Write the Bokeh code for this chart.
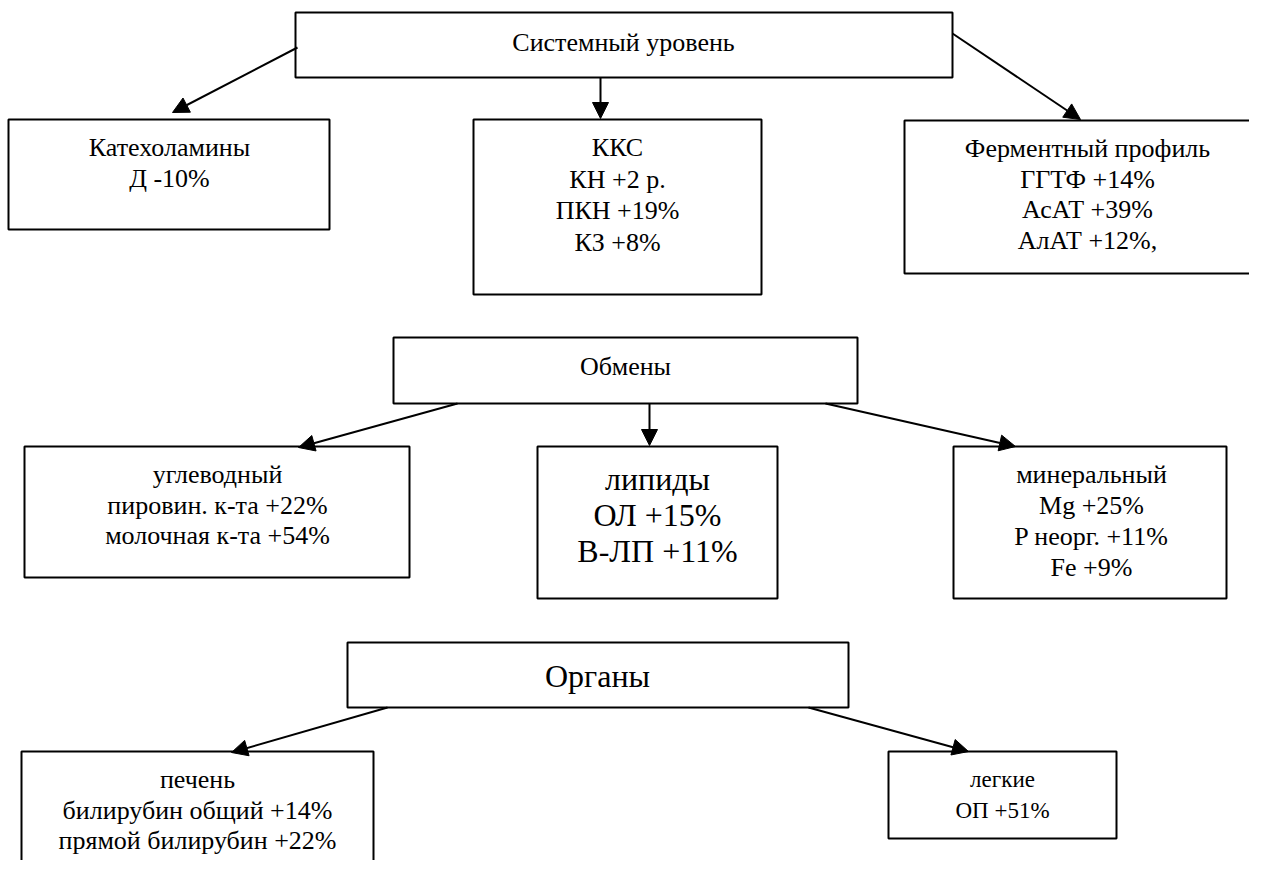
from bokeh.plotting import figure
from bokeh.models import Range1d, ColumnDataSource, Arrow, NormalHead
from bokeh.core.properties import value
from bokeh.embed import file_html
from bokeh.resources import INLINE

# ---- texts of the diagram ----
level_titles = ["Системный уровень", "Обмены", "Органы"]
system_nodes = [
    ["Катехоламины", "Д -10%"],
    ["ККС", "КН +2 р.", "ПКН +19%", "КЗ +8%"],
    ["Ферментный профиль", "ГГТФ +14%", "АсАТ +39%", "АлАТ +12%,"],
]
exchange_nodes = [
    ["углеводный", "пировин. к-та +22%", "молочная к-та +54%"],
    ["липиды", "ОЛ +15%", "В-ЛП +11%"],
    ["минеральный", "Mg +25%", "P неорг. +11%", "Fe +9%"],
]
organ_nodes = [
    ["печень", "билирубин общий +14%", "прямой билирубин +22%"],
    ["легкие", "ОП +51%"],
]

# ---- layout (pixel coordinates of the page) ----
all_texts = [[level_titles[0]]] + system_nodes + [[level_titles[1]]] + exchange_nodes + [[level_titles[2]]] + organ_nodes
rects = [
    (295, 12, 952, 77),
    (8, 119, 329, 229), (473, 119, 761, 294), (904, 120, 1275, 273),
    (393, 337, 857, 403),
    (24, 446, 409, 577), (537, 446, 777, 598), (953, 446, 1226, 598),
    (347, 642, 848, 707),
    (21, 751, 373, 900), (888, 751, 1116, 838),
]
text_cx = [623, 169, 617, 1087, 625, 217, 657, 1091, 597, 197, 1002]
text_y0 = [42, 147, 147, 148, 366, 474, 478, 474, 675, 779, 779]
line_dy = [31, 31, 31.5, 30.5, 31, 30.5, 36, 31, 31, 30.5, 31]
font_px = [26, 26, 26, 26, 26, 26, 32, 26, 32, 26, 23]
arrows = [
    (297, 47, 172, 112), (600, 77, 600, 118), (952, 33, 1080, 119),
    (457, 403, 298, 447), (649, 403, 649, 445), (825, 403, 1015, 446),
    (387, 707, 231, 752), (808, 707, 968, 751),
]

p = figure(width=1249, height=860, output_backend="svg", toolbar_location=None,
           x_range=Range1d(0, 1249), y_range=Range1d(860, 0),
           min_border=0, outline_line_color=None)
p.axis.visible = False
p.grid.visible = False
p.background_fill_color = "white"
p.border_fill_color = "white"

p.quad(left=[r[0] for r in rects], right=[r[2] for r in rects],
       top=[r[1] for r in rects], bottom=[r[3] for r in rects],
       fill_color="white", line_color="black", line_width=2)

asrc = ColumnDataSource(dict(x0=[a[0] for a in arrows], y0=[a[1] for a in arrows],
                             x1=[a[2] for a in arrows], y1=[a[3] for a in arrows]))
p.add_layout(Arrow(x_start="x0", y_start="y0", x_end="x1", y_end="y1", source=asrc,
                   line_color="black", line_width=2,
                   end=NormalHead(size=16, fill_color="black", line_color="black", line_width=1)))

tx, ty, tt, ts = [], [], [], []
for i, lines in enumerate(all_texts):
    for j, s in enumerate(lines):
        tx.append(text_cx[i])
        ty.append(text_y0[i] + j * line_dy[i])
        tt.append(s)
        ts.append(f"{font_px[i]}px")
p.text(x=tx, y=ty, text=tt, text_font_size=ts, text_font=value("Liberation Serif"),
       text_align="center", text_baseline="middle", text_color="black")

open("out.html", "w").write(file_html(p, INLINE))
